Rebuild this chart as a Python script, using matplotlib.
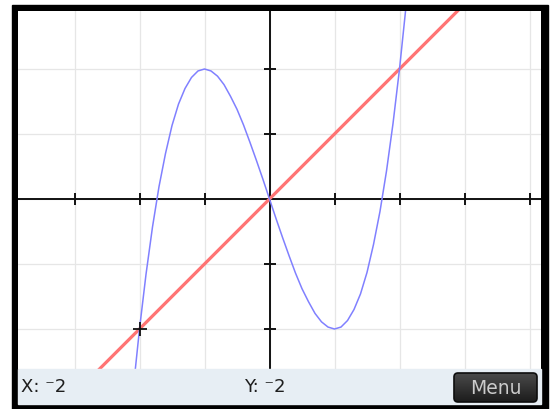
import matplotlib
matplotlib.use("Agg")
import numpy as np
from matplotlib import pyplot as plt
from matplotlib.patches import Rectangle, FancyBboxPatch

# curve points (x, y)
curve_x = [-2.2, -2.1, -2.0, -1.9, -1.8, -1.7, -1.6, -1.5, -1.4, -1.3, -1.2, -1.1,
           -1.0, -0.9, -0.8, -0.7, -0.6, -0.5, -0.4, -0.3, -0.2, -0.1, 0.0,
           0.1, 0.2, 0.3, 0.4, 0.5, 0.6, 0.7, 0.8, 0.9, 1.0, 1.1, 1.2, 1.3,
           1.4, 1.5, 1.6, 1.7, 1.8, 1.9, 2.0, 2.1, 2.2]
curve_y = [-4.05, -2.96, -2.0, -1.16, -0.43, 0.19, 0.70, 1.13, 1.46, 1.70, 1.87, 1.97,
           2.0, 1.97, 1.89, 1.76, 1.58, 1.38, 1.14, 0.87, 0.59, 0.30, 0.0,
           -0.30, -0.59, -0.87, -1.14, -1.38, -1.58, -1.76, -1.89, -1.97, -2.0, -1.97, -1.87, -1.70,
           -1.46, -1.13, -0.70, -0.19, 0.43, 1.16, 2.0, 2.96, 4.05]
line_x = [-4, 5]
line_y = [-4, 5]
trace_point = (-2, -2)
x_ticks = [-3, -2, -1, 1, 2, 3, 4]
y_ticks = [-2, -1, 1, 2]
status_x = "X: \u207b2"
status_y = "Y: \u207b2"

W, H = 551, 409
fig = plt.figure(figsize=(W / 100, H / 100), dpi=100)
fig.patch.set_facecolor("white")

# calculator frame, in pixel coords
bg = fig.add_axes([0, 0, 1, 1], zorder=0)
bg.set_xlim(0, W)
bg.set_ylim(H, 0)
bg.axis("off")
bg.add_patch(Rectangle((12, 5), 536, 410, color="black"))

# plot area
px0, px1, py0, py1 = 18, 541, 11, 369
ox, oy, unit = 269.5, 199, 65.0
ax = fig.add_axes([px0 / W, 1 - py1 / H, (px1 - px0) / W, (py1 - py0) / H], zorder=1)
ax.set_facecolor("white")
ax.set_xlim((px0 - ox) / unit, (px1 - ox) / unit)
ax.set_ylim(-(py1 - oy) / unit, (oy - py0) / unit)
for s in ax.spines.values():
    s.set_visible(False)
ax.set_xticks([-3, -2, -1, 0, 1, 2, 3, 4])
ax.set_yticks([-2, -1, 0, 1, 2])
ax.tick_params(length=0, labelbottom=False, labelleft=False)
ax.grid(True, color="#e6e6e6", lw=0.9)
ax.set_axisbelow(True)

ax.axhline(0, color="#111111", lw=1.4, zorder=2)
ax.axvline(0, color="#111111", lw=1.4, zorder=2)
ax.plot(x_ticks, [0] * len(x_ticks), ls="none", marker="|", ms=9, mew=1.4,
        color="#111111", zorder=2)
ax.plot([0] * len(y_ticks), y_ticks, ls="none", marker="_", ms=9, mew=1.4,
        color="#111111", zorder=2)

ax.plot(line_x, line_y, color="#ff7474", lw=2.3, zorder=3, solid_capstyle="butt")
ax.plot(curve_x, curve_y, color="#8080ff", lw=1.1, zorder=4)
ax.plot([trace_point[0]], [trace_point[1]], marker="+", ms=10, mew=1.3,
        color="#111111", zorder=5)

# status bar
bar = fig.add_axes([0, 0, 1, 1], zorder=2)
bar.set_xlim(0, W)
bar.set_ylim(H, 0)
bar.axis("off")
bar.patch.set_alpha(0)
bar.add_patch(Rectangle((18, 369), 523, 35, color="#e7eef4"))
bar.text(21, 386.5, status_x, fontsize=13, color="#1e1e1e", va="center", ha="left")
bar.text(244, 386.5, status_y, fontsize=13, color="#1e1e1e", va="center", ha="left")

# Menu button with a dark vertical gradient
btn = FancyBboxPatch((454, 373), 83, 29, boxstyle="round,pad=0,rounding_size=4",
                     fc="none", ec="#0d0d0d", lw=1.2, zorder=4)
bar.add_patch(btn)
grad = np.linspace(0, 1, 64).reshape(-1, 1)
img = bar.imshow(grad, extent=(454, 537, 402, 373), cmap=plt.matplotlib.colors.LinearSegmentedColormap.from_list(
    "btn", ["#4a4a4a", "#1c1c1c"]), aspect="auto", zorder=3)
img.set_clip_path(btn)
bar.set_xlim(0, W)
bar.set_ylim(H, 0)
bar.text(495.5, 388, "Menu", fontsize=13.5, color="#cccccc", va="center", ha="center", zorder=5)

fig.savefig("out.png", dpi=100)
